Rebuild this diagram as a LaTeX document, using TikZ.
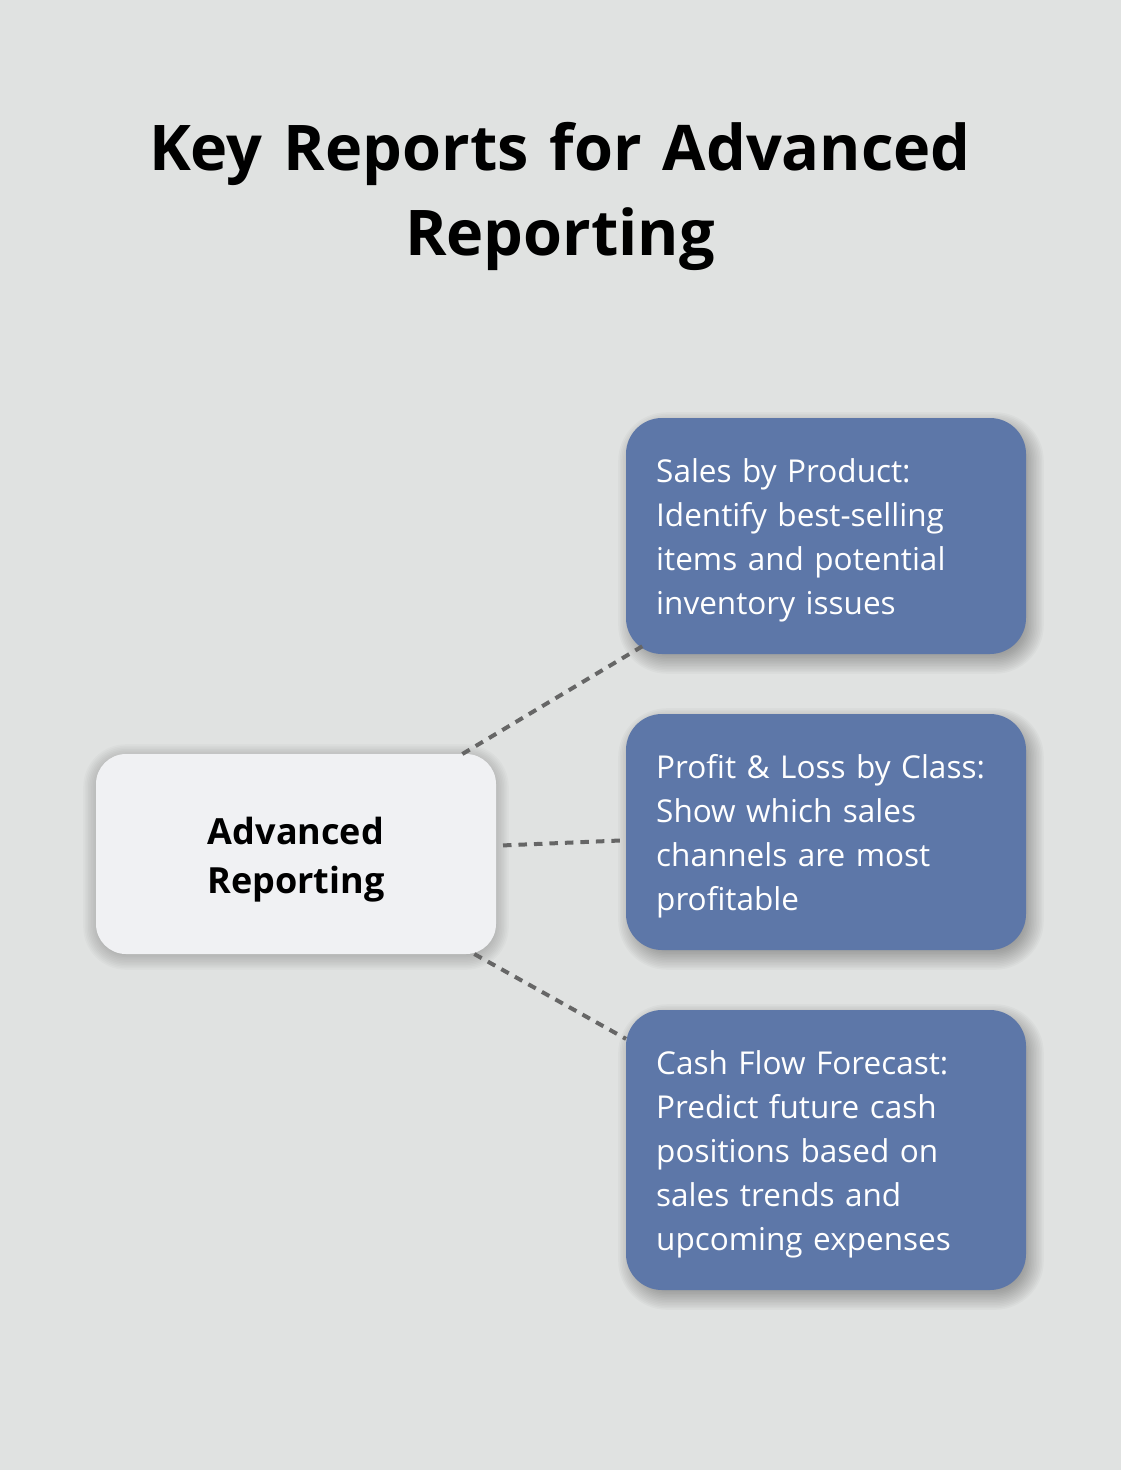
\documentclass[tikz,border=0pt]{standalone}
\usepackage{fontspec}
\setmainfont{Open Sans}
\definecolor{bgcol}{HTML}{E0E2E1}
\definecolor{bluecol}{HTML}{5D77A8}
\definecolor{leftcol}{HTML}{F0F1F3}
\definecolor{dashcol}{HTML}{666666}
\newcommand{\mysoftshadow}[8]{% x1 y1 x2 y2 radius dx dy opacity
  \foreach \k in {-8,...,8}{%
    \pgfmathsetmacro{\ex}{\k*1.6}%
    \pgfmathsetmacro{\rr}{#5+\ex}%
    \fill[black, opacity=#8, rounded corners=\rr pt] ({#1+#6-\ex},{#2+#7-\ex}) rectangle ({#3+#6+\ex},{#4+#7+\ex});
  }}
\tikzset{
  bluebox/.style={rectangle, rounded corners=36pt, fill=bluecol, draw=none,
    minimum width=400pt, inner sep=0pt, outer sep=0pt},
  leftbox/.style={rectangle, rounded corners=30pt, fill=leftcol, draw=none,
    minimum width=400pt, minimum height=200pt, inner sep=0pt, outer sep=0pt},
  boxtext/.style={anchor=base west, inner sep=0pt, text=white, text width=360pt, align=left,
    font=\fontsize{31.5}{44}\selectfont},
  lefttext/.style={anchor=base, inner sep=0pt, text=black, text width=300pt, align=center,
    font=\fontsize{36}{49}\selectfont\bfseries},
  titletext/.style={anchor=base, inner sep=0pt, text=black, text width=1000pt, align=center,
    font=\fontsize{63}{85}\selectfont\bfseries},
  link/.style={draw=dashcol, line width=4pt, dash pattern=on 8.5pt off 7pt}
}
\begin{document}
\begin{tikzpicture}[x=1pt,y=-1pt]
\useasboundingbox (0,0) rectangle (1120,1470);
\fill[bgcol] (-10,-10) rectangle (1130,1480);

\node[titletext] (title) at (560,170) {Key Reports for Advanced\\Reporting};

% soft shadows
\mysoftshadow{96}{754}{496}{954}{30}{0}{3}{0.018}
\mysoftshadow{626}{418}{1026}{654}{36}{5}{7}{0.022}
\mysoftshadow{626}{714}{1026}{950}{36}{5}{7}{0.022}
\mysoftshadow{626}{1010}{1026}{1290}{36}{5}{7}{0.022}

\node[leftbox] (adv) at (296,854) {};
\node[lefttext] (advt) at (296,844) {Advanced\\Reporting};

\node[bluebox, minimum height=236pt] (b1) at (826,536) {};
\node[bluebox, minimum height=236pt] (b2) at (826,832) {};
\node[bluebox, minimum height=280pt] (b3) at (826,1150) {};

\node[boxtext] (t1) at (656,482) {Sales by Product:\\Identify best-selling\\items and potential\\inventory issues};
\node[boxtext] (t2) at (656,778) {Profit \& Loss by Class:\\Show which sales\\channels are most\\profitable};
\node[boxtext] (t3) at (656,1074) {Cash Flow Forecast:\\Predict future cash\\positions based on\\sales trends and\\upcoming expenses};

\draw[link, shorten >=-15pt] (adv) -- (b1);
\draw[link, shorten <=7pt, shorten >=2pt] (adv) -- (b2);
\draw[link] (adv) -- (b3);
\end{tikzpicture}
\end{document}
